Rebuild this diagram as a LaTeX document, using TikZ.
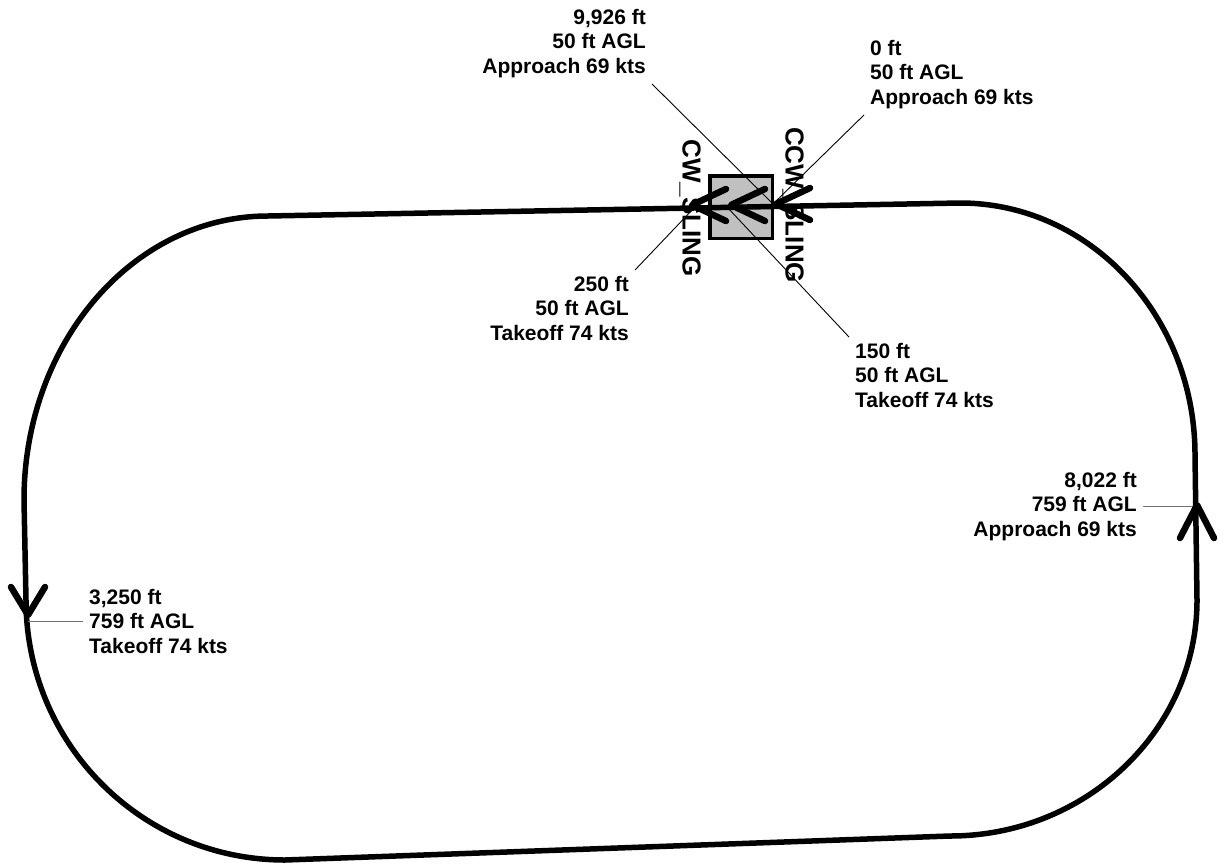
\documentclass[tikz,border=0pt]{standalone}
\usepackage{fontspec}
\setmainfont{Liberation Sans}
\usetikzlibrary{calc, positioning}

\definecolor{padgray}{RGB}{192,192,192}

\tikzset{
  track/.style={line width=5.5pt},
  chevron/.style={line width=6.5pt, line cap=round, line join=round},
  leader/.style={line width=0.9pt},
  flatleader/.style={line width=1.2pt, black!55},
  info/.style={font=\fontsize{21}{24.5}\selectfont\bfseries, inner sep=6pt},
  sling/.style={font=\fontsize{26}{30}\selectfont\bfseries, rotate=-90, inner sep=0pt},
  pad/.style={draw, line width=3.5pt, fill=padgray, minimum size=62.5pt, inner sep=0pt},
}

\begin{document}
\begin{tikzpicture}[x=1pt, y=-1pt]
\useasboundingbox (0,0) rectangle (1225,867);

% points on the circuit
\coordinate (pZero) at (773,204);
\coordinate (pOneFifty) at (727,207);
\coordinate (pTwoFifty) at (694,208);
\coordinate (pLeft) at (28,615);
\coordinate (pRight) at (1197,505);

% sling pad
\node[pad] (pad) at (741,207) {};

% the circuit
\draw[track] (960,203) -- (268,216)
  .. controls (133,216) and (24,343) .. (24,500)
  -- (26,600)
  .. controls (26,744) and (142,860) .. (285,860)
  -- (950,836)
  .. controls (1086,836) and (1197,730) .. (1197,600)
  -- (1195,455)
  .. controls (1195,316) and (1090,203) .. cycle;

\node[sling] (cwLabel) at (690,208) {CW\_SLING};
\node[sling] (ccwLabel) at (793,205) {CCW\_SLING};

% labels
\node[info, align=right, anchor=north east] (tEnd) at (652,3)
  {9,926 ft\\50 ft AGL\\Approach 69 kts};
\node[info, align=left, anchor=north west] (tZero) at (864,34)
  {0 ft\\50 ft AGL\\Approach 69 kts};
\node[info, align=right, anchor=north east] (tTwoFifty) at (635,270)
  {250 ft\\50 ft AGL\\Takeoff 74 kts};
\node[info, align=left, anchor=north west] (tOneFifty) at (849,337)
  {150 ft\\50 ft AGL\\Takeoff 74 kts};
\node[info, align=right, anchor=north east] (tRight) at (1143,466)
  {8,022 ft\\759 ft AGL\\Approach 69 kts};
\node[info, align=left, anchor=north west] (tLeft) at (83,583)
  {3,250 ft\\759 ft AGL\\Takeoff 74 kts};

\draw[leader] (tEnd.south east) -- (pZero);
\draw[leader] (tZero.south west) -- (pZero);
\draw[leader] (tTwoFifty.north east) -- (pTwoFifty);
\draw[leader] (tOneFifty.north west) -- (pOneFifty);
\draw[flatleader] (tRight.east) -- (tRight.east -| pRight);
\draw[flatleader] (tLeft.west) -- (tLeft.west -| pLeft);

% direction arrows
\foreach \tx/\ty in {692/205, 731/205, 776/204} {
  \draw[chevron] (\tx+34,\ty-16) -- (\tx,\ty) -- (\tx+34,\ty+16);
}
\draw[chevron] ($(pLeft)+(-17,-28)$) -- (pLeft) -- ($(pLeft)+(17,-28)$);
\draw[chevron] ($(pRight)+(-17,33)$) -- (pRight) -- ($(pRight)+(17,33)$);
\end{tikzpicture}
\end{document}
